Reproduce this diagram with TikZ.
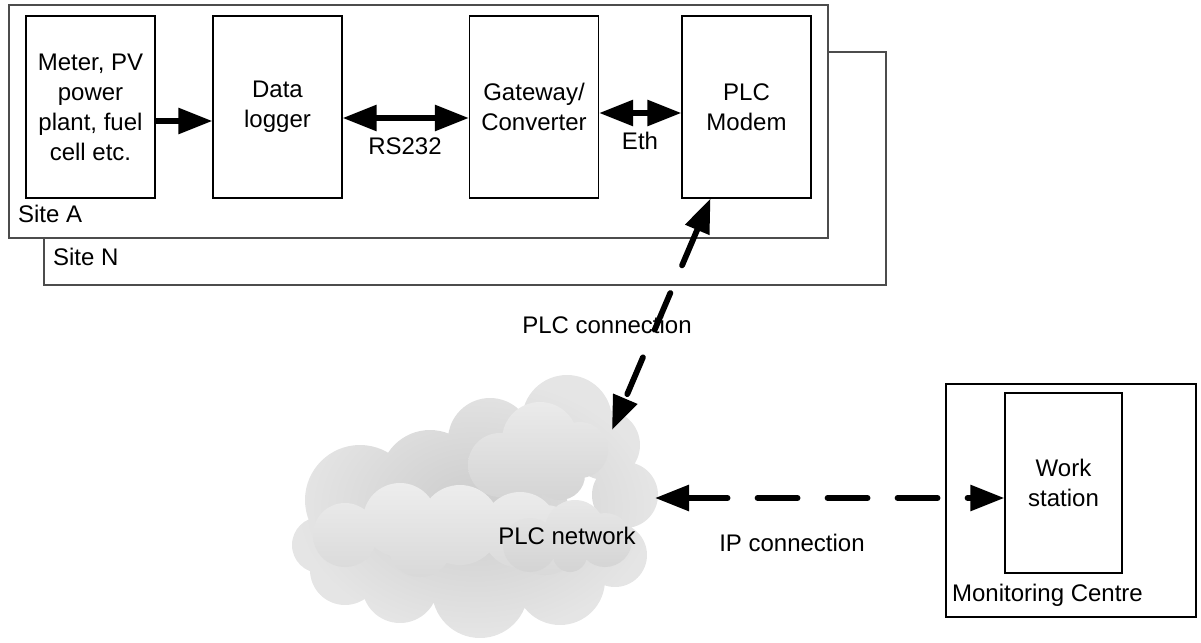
\documentclass[tikz,border=0pt]{standalone}
\usepackage{fontspec}
\setmainfont{Liberation Sans}
\usetikzlibrary{arrows.meta,positioning,calc}

\begin{document}
\begin{tikzpicture}[
    x=0.5pt, y=-0.5pt,
    every node/.style={font=\fontsize{12}{15}\selectfont},
    box/.style={draw, line width=0.6pt, fill=white, minimum width=64.5pt, minimum height=91pt, inner sep=0pt, align=center},
    site/.style={draw=black!70, line width=0.8pt, fill=white},
    arr/.style={-{Triangle[length=17pt,width=12.5pt]}, line width=2.9pt},
    dbl/.style={{Triangle[length=17pt,width=12.5pt]}-{Triangle[length=17pt,width=12.5pt]}, line width=2.9pt},
    link/.style={dbl, line cap=round, dash pattern=on 20pt off 15pt}
]
\useasboundingbox (0,0) rectangle (1201,643);

\draw[site] (44,52) rectangle (886,285);
\draw[site] (9,5) rectangle (828,238);
\node[anchor=west] (siteN) at (46,257) {Site N};
\node[anchor=west] (siteA) at (11,214) {Site A};

\node[box] (meter) at (90.5,107) {Meter, PV\\power\\plant, fuel\\cell etc.};
\node[box] (logger) at (277.5,107) {Data\\logger};
\node[box] (gateway) at (534,107) {Gateway/\\Converter};
\node[box] (modem) at (746.5,107) {PLC\\Modem};

\draw[line width=0.6pt] (946,384) rectangle (1196,617);
\node[box, minimum width=58.5pt, minimum height=90pt] (station) at (1063.5,483) {Work\\station};
\node[anchor=west] (centre) at (945,595) {Monitoring Centre};

\shade[inner color=gray!40, outer color=gray!20]
  \foreach \cx/\cy/\r in {360/500/55, 320/545/28, 430/480/50, 490/440/42, 567/420/45,
    605/445/35, 625/495/33, 615/555/32, 560/580/45, 480/590/48, 400/585/38,
    345/570/35, 500/520/70, 420/540/60} {(\cx,\cy) circle[radius=\r]};
\shade[top color=gray!16, bottom color=gray!34]
  \foreach \cx/\cy/\r in {500/465/32, 540/440/38, 580/450/28, 560/475/25, 525/480/22} {(\cx,\cy) circle[radius=\r]};
\shade[top color=gray!14, bottom color=gray!30]
  \foreach \cx/\cy/\r in {345/535/32, 400/520/37, 460/525/40, 520/530/38, 545/540/35, 420/545/32} {(\cx,\cy) circle[radius=\r]};
\shade[top color=gray!18, bottom color=gray!34]
  \foreach \cx/\cy/\r in {530/545/27, 575/530/30, 605/540/27, 570/555/17} {(\cx,\cy) circle[radius=\r]};
\node (cloud) at (567,536) {PLC network};

\node (rs) at (405,146) {RS232};
\node (eth) at (640,141) {Eth};
\node (plclabel) at (607,325) {PLC connection};
\node (iplabel) at (792,543) {IP connection};

\coordinate (plcin) at (612,430);
\coordinate (ipin) at (655,498);

\draw[arr] ([yshift=-7pt]meter.east) -- ([yshift=-7pt]logger.west);
\draw[dbl] ([yshift=-5.5pt]logger.east) -- ([yshift=-5.5pt]gateway.west);
\draw[dbl] ([yshift=-3pt]gateway.east) -- ([yshift=-3pt]modem.west);
\draw[link] ([xshift=-18pt]modem.south) -- (plcin);
\draw[link] (ipin) -- ([yshift=-7.5pt]station.west);
\end{tikzpicture}
\end{document}
